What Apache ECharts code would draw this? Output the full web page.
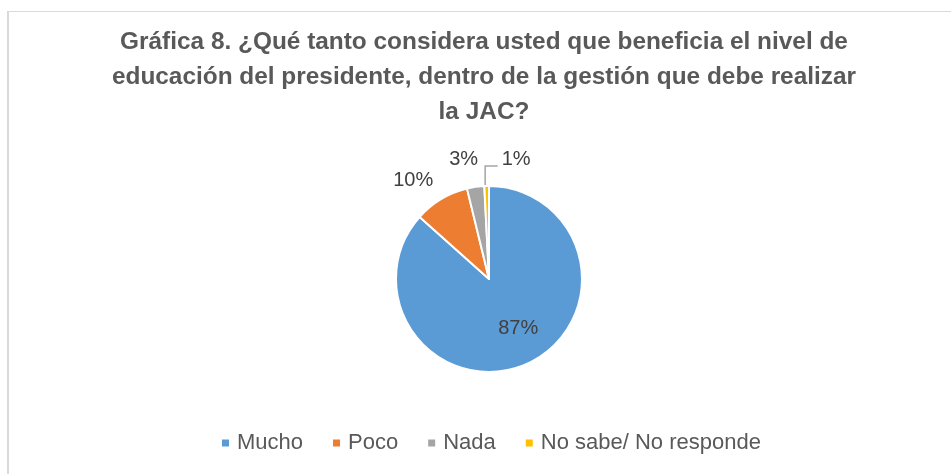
<!DOCTYPE html>
<html><head><meta charset="utf-8">
<script src="https://cdn.jsdelivr.net/npm/echarts@6/dist/echarts.min.js"></script>
<style>html,body{margin:0;padding:0;background:#fff}#c{width:951px;height:474px}</style>
</head><body><div id="c"></div>
<script>
const titleText = 'Gráfica 8. ¿Qué tanto considera usted que beneficia el nivel de\neducación del presidente, dentro de la gestión que debe realizar\nla JAC?';
const categories = ['Mucho', 'Poco', 'Nada', 'No sabe/ No responde'];
const values = [86.6, 9.6, 3.0, 0.8];
const colors = ['#5B9BD5', '#ED7D31', '#A5A5A5', '#FFC000'];
const FONT = '"Liberation Sans", Arial, sans-serif';

const chart = echarts.init(document.getElementById('c'));
const total = values.reduce((a, b) => a + b, 0);
const data = categories.map((name, i) => {
  const item = { name, value: values[i], itemStyle: { color: colors[i] } };
  if (i === 0) {
    item.label = { position: 'inside' };
  } else {
    item.label = { position: 'outside' };
    item.labelLine = { show: true, lineStyle: { opacity: i === 3 ? 1 : 0 } };
  }
  return item;
});
// label offsets relative to the slice edge point given by the library
const labelShift = {
  1: { dx: -28, dy: -19 },
  2: { dx: -12, dy: -27 }
};
chart.setOption({
  animation: false,
  graphic: [
    { type: 'line', shape: { x1: 7, y1: 11.5, x2: 951, y2: 11.5 }, style: { stroke: '#d9d9d9', lineWidth: 1 } },
    { type: 'line', shape: { x1: 8, y1: 11, x2: 8, y2: 474 }, style: { stroke: '#d9d9d9', lineWidth: 2 } }
  ],
  title: {
    text: titleText,
    left: 484,
    textAlign: 'center',
    top: 25,
    padding: 0,
    textStyle: { fontFamily: FONT, fontSize: 24.4, fontWeight: 'bold', color: '#595959', lineHeight: 35 }
  },
  legend: {
    top: 427,
    left: 217,
    itemWidth: 7,
    itemHeight: 7,
    itemGap: 30,
    icon: 'rect',
    itemStyle: { borderWidth: 0 },
    textStyle: { fontFamily: FONT, fontSize: 22, color: '#595959', padding: [0, 0, 0, 3] },
    data: categories
  },
  series: [{
    type: 'pie',
    center: [489, 279],
    radius: 93,
    startAngle: 90,
    clockwise: true,
    avoidLabelOverlap: false,
    itemStyle: { borderColor: '#fff', borderWidth: 2 },
    label: {
      fontFamily: FONT, fontSize: 20, color: '#404040',
      formatter: p => Math.round(p.value / total * 100) + '%'
    },
    labelLine: { length: 10, length2: 10, lineStyle: { color: '#A5A5A5', width: 1.5 } },
    labelLayout: function (params) {
      const i = params.dataIndex;
      const pts = params.labelLinePoints;
      if (i === 0) return { dx: 9, dy: 4 };
      if (!pts) return {};
      const p0 = pts[0];
      if (i === 3) {
        return {
          x: p0[0] + 15, y: p0[1] - 27, align: 'left', verticalAlign: 'middle',
          labelLinePoints: [[p0[0] - 1.5, p0[1]], [p0[0] - 1.5, p0[1] - 20], [p0[0] + 11, p0[1] - 20]]
        };
      }
      const s = labelShift[i];
      return { x: p0[0] + s.dx, y: p0[1] + s.dy, align: 'center', verticalAlign: 'middle' };
    },
    data
  }]
});
</script></body></html>
